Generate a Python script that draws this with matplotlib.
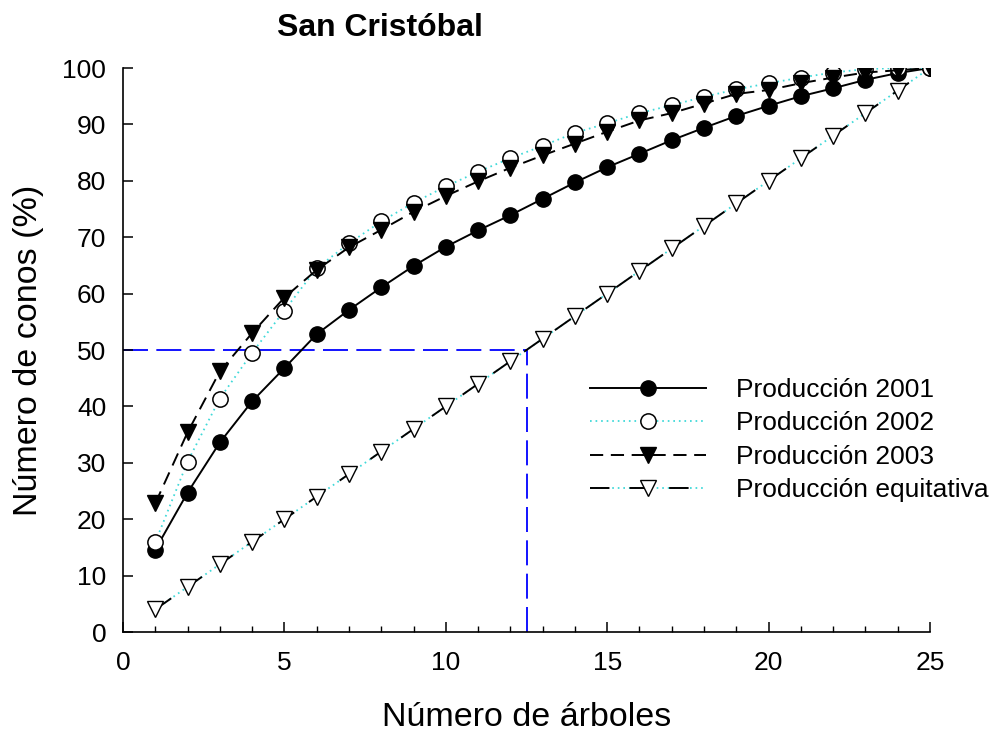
import matplotlib
matplotlib.use('Agg')
import matplotlib.pyplot as plt
from matplotlib.lines import Line2D
from matplotlib.legend_handler import HandlerTuple
import numpy as np

plt.rcParams['font.family'] = ['Liberation Sans', 'DejaVu Sans']
plt.rcParams['lines.scale_dashes'] = False

# data
arboles = np.arange(1, 26)
prod_2001 = [14.6, 24.7, 33.6, 40.9, 46.8, 52.8, 57.1, 61.1, 64.9, 68.3,
             71.2, 73.9, 76.8, 79.7, 82.4, 84.8, 87.2, 89.4, 91.5, 93.3,
             95.0, 96.4, 97.9, 99.1, 100.0]
prod_2002 = [15.9, 30.2, 41.4, 49.5, 57.0, 64.5, 68.9, 72.8, 76.1, 79.0,
             81.6, 84.0, 86.2, 88.5, 90.2, 92.0, 93.4, 94.9, 96.2, 97.3,
             98.3, 99.2, 99.8, 100.0, 100.0]
prod_2003 = [22.8, 35.4, 46.2, 53.0, 59.3, 64.2, 68.2, 71.3, 74.5, 77.3,
             79.9, 82.3, 84.5, 86.6, 88.7, 90.7, 92.0, 93.7, 95.4, 96.1,
             97.3, 98.3, 99.2, 99.6, 100.0]
prod_equit = [4, 8, 12, 16, 20, 24, 28, 32, 36, 40, 44, 48, 52, 56, 60,
              64, 68, 72, 76, 80, 84, 88, 92, 96, 100]
x_mitad = 12.5
y_mitad = 50

cyan = '#3fd9d9'

fig = plt.figure(figsize=(9.96, 7.4), dpi=100)
ax = fig.add_axes([123/996, 1-632/740, (930-123)/996, (632-68)/740])

# reference lines at 50 %
ax.plot([0, x_mitad], [y_mitad, y_mitad], color='#0000ff', lw=1.3, dashes=(18, 6), zorder=1)
ax.plot([x_mitad, x_mitad], [0, y_mitad], color='#0000ff', lw=1.3, dashes=(18, 6), zorder=1)

l1, = ax.plot(arboles, prod_2001, color='black', lw=1.4, marker='o', ms=11,
              mfc='black', mec='black', zorder=3)
l2, = ax.plot(arboles, prod_2002, color=cyan, lw=1.3, ls=(0, (1.2, 2.8)), marker='o', ms=11,
              mfc='white', mec='black', mew=1.1, zorder=4)
l3, = ax.plot(arboles, prod_2003, color='black', lw=1.4, dashes=(9.5, 5.5), marker='v', ms=12,
              mfc='black', mec='black', zorder=5)
ax.plot(arboles, prod_equit, color=cyan, lw=1.3, ls=(0, (1.2, 2.8)), zorder=2)
ax.plot(arboles, prod_equit, color='black', lw=1.4, ls=(0, (14, 13)), marker='v', ms=12,
        mfc='white', mec='black', mew=1.0, zorder=2)

ax.set_xlim(0, 25)
ax.set_ylim(0, 100)
ax.set_xticks(range(0, 26, 5))
ax.set_xticks(range(0, 26), minor=True)
ax.set_yticks(range(0, 101, 10))
ax.spines['top'].set_visible(False)
ax.spines['right'].set_visible(False)
for s in ['left', 'bottom']:
    ax.spines[s].set_linewidth(1.2)
ax.tick_params(axis='both', which='major', direction='in', length=7, width=1.1,
               labelsize=19)
ax.tick_params(axis='x', which='major', pad=14)
ax.tick_params(axis='y', which='major', pad=12)
ax.tick_params(axis='x', which='minor', direction='in', length=4, width=1.0)

ax.set_xlabel('Número de árboles', fontsize=24.5, labelpad=19)
ax.set_ylabel('Número de conos (%)', fontsize=24.5, labelpad=13)

fig.text(380/996, 1-28/740, 'San Cristóbal', fontsize=23, fontweight='bold',
         ha='center', va='center')

# legend proxies for the mixed black dash / cyan dot line (overlaid, not side by side)
eq_dots = Line2D([], [], color=cyan, lw=1.3, ls=(0, (1.2, 2.8)))
eq_dash = Line2D([], [], color='black', lw=1.4, ls=(0, (14, 14.5)), marker='v', ms=12,
                 mfc='white', mec='black', mew=1.0)

ax.legend([l1, l2, l3, (eq_dots, eq_dash)],
          ['Producción 2001', 'Producción 2002', 'Producción 2003', 'Producción equitativa'],
          handler_map={tuple: HandlerTuple(ndivide=1, pad=0)},
          loc='center left', bbox_to_anchor=(590/996, 1-440/740),
          bbox_transform=fig.transFigure, frameon=False, fontsize=19,
          handlelength=4.4, handletextpad=1.15, labelspacing=0.36,
          borderpad=0, borderaxespad=0)

fig.savefig('out.png', dpi=100)
